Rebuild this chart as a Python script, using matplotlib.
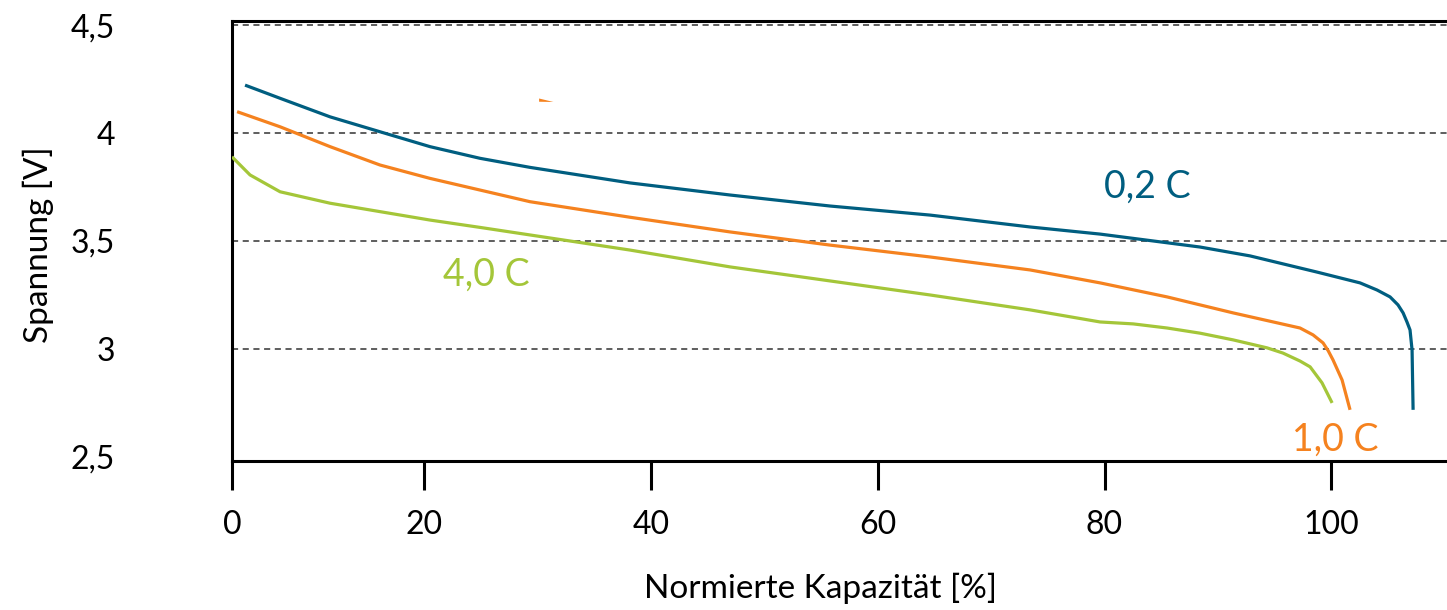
import matplotlib
matplotlib.use("Agg")
import matplotlib.pyplot as plt
from matplotlib.patches import Polygon

plt.rcParams['font.family'] = ['Lato', 'DejaVu Sans']

# Discharge curves: normalised capacity [%] vs. cell voltage [V]
cap_02 = [4.21, 7.30, 11.71, 16.11, 20.52, 24.93, 29.34, 38.16, 46.98, 55.80,
          64.62, 73.43, 79.61, 88.43, 92.83, 97.24, 98.74, 102.53, 104.03,
          105.18, 105.88, 106.33, 106.67, 106.94, 107.12, 107.21]
volt_02 = [4.222, 4.161, 4.075, 4.006, 3.937, 3.883, 3.841, 3.769, 3.713, 3.662,
           3.620, 3.565, 3.532, 3.472, 3.431, 3.375, 3.356, 3.306, 3.273,
           3.241, 3.204, 3.167, 3.125, 3.088, 2.995, 2.718]

cap_10 = [3.51, 7.30, 11.71, 16.11, 20.52, 24.93, 29.34, 38.16, 46.98, 55.80,
          64.62, 73.43, 79.61, 85.52, 91.34, 97.24, 98.39, 99.27, 99.72,
          100.15, 100.95, 101.65]
volt_10 = [4.099, 4.029, 3.937, 3.852, 3.790, 3.736, 3.682, 3.610, 3.542, 3.481,
           3.426, 3.366, 3.306, 3.241, 3.167, 3.097, 3.065, 3.028, 2.992,
           2.949, 2.856, 2.718]

cap_40 = [3.06, 4.65, 7.30, 11.71, 16.11, 20.52, 24.93, 29.34, 38.16, 46.98,
          55.80, 64.62, 73.43, 79.61, 82.53, 85.52, 88.43, 91.34, 94.34, 95.73,
          97.24, 98.13, 99.18, 100.07]
volt_40 = [3.890, 3.806, 3.728, 3.675, 3.636, 3.597, 3.563, 3.528, 3.458, 3.380,
           3.315, 3.250, 3.181, 3.125, 3.116, 3.097, 3.073, 3.042, 3.005, 2.981,
           2.944, 2.917, 2.843, 2.750]

x_ticks = [3.06, 20, 40, 60, 80, 100]
x_tick_labels = ['0', '20', '40', '60', '80', '100']
y_ticks = [2.5, 3.0, 3.5, 4.0, 4.5]
y_tick_labels = ['2,5', '3', '3,5', '4', '4,5']
grid_levels = [3.0, 3.5, 4.0, 4.5]

BLUE = '#005E80'
ORANGE = '#F5821F'
GREEN = '#A4C639'

W, H = 1447, 610
fig = plt.figure(figsize=(W / 100, H / 100), dpi=100)
ax = fig.add_axes([232 / W, 1 - 461 / H, 1 - 232 / W, (461 - 21) / H])

for lvl in grid_levels:
    ax.axhline(lvl, color='#333333', lw=1.1, ls=(0, (4, 3)), zorder=1)

for cap, volt, col in [(cap_02, volt_02, BLUE), (cap_10, volt_10, ORANGE),
                       (cap_40, volt_40, GREEN)]:
    ax.plot(cap, volt, color=col, lw=2.3, solid_capstyle='butt',
            solid_joinstyle='round', zorder=3)

# small stray orange stroke near the top
ax.add_patch(Polygon([(30.14, 4.160), (31.40, 4.144), (30.14, 4.145)],
                     closed=True, color=ORANGE, lw=0, zorder=3))


def fig_xy(px, py):
    return px / W, 1 - py / H


ax.text(*fig_xy(1147, 187), '0,2 C', color=BLUE, fontsize=27, ha='center',
        va='center', transform=fig.transFigure)
ax.text(*fig_xy(486, 275), '4,0 C', color=GREEN, fontsize=27, ha='center',
        va='center', transform=fig.transFigure)
ax.text(*fig_xy(1335, 440), '1,0 C', color=ORANGE, fontsize=27, ha='center',
        va='center', transform=fig.transFigure)

ax.set_xlim(3.06, 110.2)
ax.set_ylim(2.481, 4.519)

ax.set_xticks(x_ticks)
ax.set_xticklabels(x_tick_labels, fontsize=23)
ax.set_yticks(y_ticks)
ax.set_yticklabels(y_tick_labels, fontsize=23, ha='right')

ax.tick_params(axis='x', direction='out', length=21, width=2.2, pad=14,
               colors='black')
ax.tick_params(axis='y', length=0, pad=84)

for side in ['left', 'bottom', 'top']:
    ax.spines[side].set_linewidth(2.2)
    ax.spines[side].set_color('black')
ax.spines['right'].set_visible(False)

fig.text(*fig_xy(820, 588), 'Normierte Kapazität [%]', fontsize=24,
         ha='center', va='center')
fig.text(*fig_xy(38, 245), 'Spannung [V]', fontsize=24, rotation=90,
         ha='center', va='center')

fig.savefig('out.png', dpi=100)
